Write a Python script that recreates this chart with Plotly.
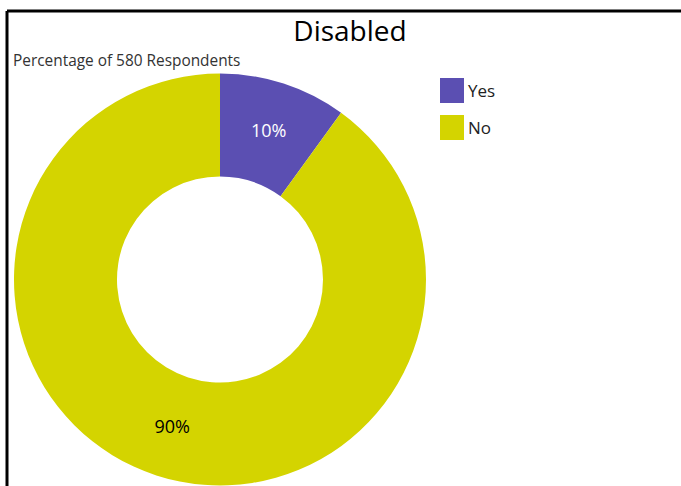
import plotly.graph_objects as go

labels = ["Yes", "No"]
values = [58, 522]
colors = ["#5B4FB2", "#D4D400"]
text_colors = ["white", "black"]
title_text = "Disabled"
subtitle_text = "Percentage of 580 Respondents"

W, H = 681, 486
FONT = "Open Sans"

def px(x):
    return x / W

def py(y):
    return 1 - y / H

fig = go.Figure(go.Pie(
    labels=labels,
    values=values,
    hole=0.5,
    sort=False,
    direction="clockwise",
    rotation=0,
    marker=dict(colors=colors, line=dict(width=0)),
    textinfo="percent",
    texttemplate="%{percent:.0%}",
    textposition="inside",
    insidetextorientation="horizontal",
    textfont=dict(color=text_colors, size=18, family=FONT),
    domain=dict(x=[px(14), px(426)], y=[py(486), py(73)]),
    showlegend=False,
))

shapes = [
    dict(type="line", xref="paper", yref="paper", x0=px(7), x1=1.0, y0=py(11), y1=py(11),
         line=dict(color="black", width=3)),
    dict(type="line", xref="paper", yref="paper", x0=px(7), x1=px(7), y0=py(11), y1=0,
         line=dict(color="black", width=3)),
]
annotations = [
    dict(text=subtitle_text, xref="paper", yref="paper", x=px(11), y=py(60),
         xanchor="left", yanchor="middle", showarrow=False,
         font=dict(size=15.4, color="#333333", family=FONT)),
]
# custom legend
for i, (lab, col) in enumerate(zip(labels, colors)):
    top = 78 + i * 37
    shapes.append(dict(type="rect", xref="paper", yref="paper",
                       x0=px(440), x1=px(464), y0=py(top), y1=py(top + 25),
                       fillcolor=col, line=dict(width=0)))
    annotations.append(dict(text=lab, xref="paper", yref="paper", x=px(466), y=py(top + 12.5),
                            xanchor="left", yanchor="middle", showarrow=False,
                            font=dict(size=17, color="#222222", family=FONT)))

fig.update_layout(
    width=W, height=H,
    margin=dict(l=0, r=0, t=0, b=0),
    paper_bgcolor="white",
    plot_bgcolor="white",
    title=dict(text=title_text, x=px(350), y=py(31), xanchor="center", yanchor="middle",
               font=dict(size=28, color="black", family=FONT)),
    shapes=shapes,
    annotations=annotations,
)

fig.write_html(
    "out.html",
    config={"displayModeBar": False},
    post_script="document.body.style.margin='0';document.body.style.overflow='hidden';",
)
